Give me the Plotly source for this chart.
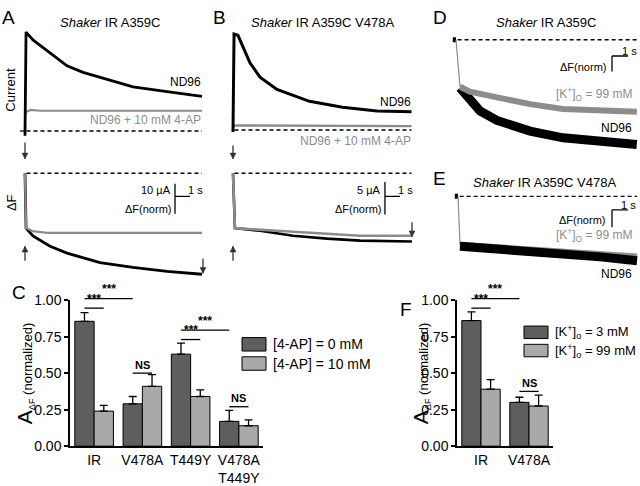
import plotly.graph_objects as go

W, H = 640, 486
FONT = "Liberation Sans, Arial, Helvetica, sans-serif"
BLACK = "#000000"
GRAY = "#8c8c8c"
DARK = "#5e5e5e"
LIGHT = "#a9a9a9"

# ---------------- data ----------------
# Panel A: Shaker IR A359C (time s, current uA, dF in scale-bar units)
a_cur_t_nd96 = [0, 0.02, 0.07, 0.53, 1.67, 2.8, 3.87, 5.0, 7.2, 9.47, 11.8]
a_cur_nd96 = [-1.6, 30.0, 33.2, 30.6, 26.1, 21.9, 19.7, 18.1, 14.8, 13.2, 11.6]
a_cur_t_4ap = [0.02, 0.07, 0.4, 1.0, 11.8]
a_cur_4ap = [5.5, 6.5, 7.1, 6.8, 6.8]
a_df_t_nd96 = [0, 0.07, 0.53, 1.67, 2.8, 5.0, 7.2, 9.47, 11.8]
a_df_nd96 = [0, -1.84, -2.10, -2.45, -2.68, -3.0, -3.16, -3.29, -3.39]
a_df_t_4ap = [0, 0.07, 0.5, 1.5, 11.8]
a_df_4ap = [0, -1.84, -1.94, -2.0, -2.0]
a_base_t = [0.1, 11.8]

# Panel B: Shaker IR A359C V478A
b_cur_t_nd96 = [0, 0.02, 0.07, 0.33, 0.67, 1.13, 1.8, 2.93, 5.1, 7.3, 9.6, 11.9]
b_cur_nd96 = [-0.3, 13.5, 14.7, 14.5, 12.8, 10.3, 8.1, 6.2, 4.4, 3.5, 2.9, 2.8]
b_cur_t_4ap = [0.02, 0.1, 11.9]
b_cur_4ap = [0.4, 0.7, 0.6]
b_df_t_nd96 = [0, 0.13, 1.8, 4.0, 6.27, 8.47, 11.93]
b_df_nd96 = [0, -1.68, -1.76, -1.91, -2.0, -2.06, -2.09]
b_df_t_4ap = [0, 0.13, 2.93, 6.27, 8.47, 11.93]
b_df_4ap = [0, -1.68, -1.76, -1.85, -1.91, -1.91]
b_base_t = [0.1, 11.9]

# Panel D: Shaker IR A359C, [K+]o
d_t_nd96 = [0, 0.25, 0.875, 1.5, 2.56, 4.63, 6.69, 8.81, 11.3]
d_df_nd96 = [0, -3.13, -4.0, -4.63, -5.25, -5.94, -6.38, -6.56, -6.81]
d_t_k99 = [0, 0.25, 0.875, 2.56, 4.63, 6.69, 8.81, 11.3]
d_df_k99 = [0, -3.06, -3.38, -3.75, -4.19, -4.5, -4.63, -4.69]
d_pre_t = [-0.2, 0.0]
d_base_t = [0.1, 11.3]

# Panel E: Shaker IR A359C V478A, [K+]o
e_t_nd96 = [0, 0.125, 2.63, 5.75, 8.88, 11.19]
e_df_nd96 = [0, -2.89, -3.06, -3.22, -3.5, -3.72]
e_t_k99 = [0, 0.125, 2.63, 5.75, 8.88, 11.19]
e_df_k99 = [0, -2.83, -2.97, -3.1, -3.33, -3.5]
e_pre_t = [-0.2, 0.0]
e_base_t = [0.1, 11.19]

zero2 = [0.0, 0.0]

# Panel C: A_dF (normalized), [4-AP]
c_categories = ["IR", "V478A", "T449Y", "V478A<br>T449Y"]
c_ap0 = [0.855, 0.29, 0.63, 0.17]
c_ap0_err = [0.06, 0.05, 0.075, 0.075]
c_ap10 = [0.24, 0.41, 0.34, 0.14]
c_ap10_err = [0.04, 0.08, 0.045, 0.04]
c_sig = [  # (group_i, bar_i, group_j, bar_j, level, label)
    (0, 0, 0, 1, 0.945, "***"),
    (0, 0, 1, 0, 1.01, "***"),
    (1, 0, 1, 1, 0.50, "NS"),
    (2, 0, 2, 1, 0.73, "***"),
    (2, 0, 3, 0, 0.795, "***"),
    (3, 0, 3, 1, 0.27, "NS"),
]
c_legend = ["[4-AP] = 0 mM", "[4-AP] = 10 mM"]

# Panel F: A_dF (normalized), [K+]o
f_categories = ["IR", "V478A"]
f_k3 = [0.86, 0.30]
f_k3_err = [0.06, 0.035]
f_k99 = [0.39, 0.275]
f_k99_err = [0.065, 0.075]
f_sig = [
    (0, 0, 0, 1, 0.945, "***"),
    (0, 0, 1, 0, 1.01, "***"),
    (1, 0, 1, 1, 0.375, "NS"),
]
f_legend = ["[K<sup>+</sup>]<sub>o</sub> = 3 mM", "[K<sup>+</sup>]<sub>o</sub> = 99 mM"]

y_ticks = [0, 0.25, 0.5, 0.75, 1.0]

# ---------------- helpers ----------------
def fx(px):
    return px / W


def fy(py):
    return 1 - py / H


def xname(n):
    return "xaxis" if n == 1 else f"xaxis{n}"


def yname(n):
    return "yaxis" if n == 1 else f"yaxis{n}"


def xr(n):
    return "x" if n == 1 else f"x{n}"


def yr(n):
    return "y" if n == 1 else f"y{n}"


fig = go.Figure()
layout = {}
shapes = []
annotations = []


def trace_axes(n, box, x0, xs, y0, ys):
    left, right, top, bottom = box
    layout[xname(n)] = dict(domain=[fx(left), fx(right)],
                            range=[(left - x0) / xs, (right - x0) / xs],
                            visible=False, anchor=yr(n), fixedrange=True)
    layout[yname(n)] = dict(domain=[fy(bottom), fy(top)],
                            range=[(y0 - bottom) / ys, (y0 - top) / ys],
                            visible=False, anchor=xr(n), fixedrange=True)


def line(n, x, y, color, width, dash=None):
    fig.add_trace(go.Scatter(x=x, y=y, mode="lines",
                             line=dict(color=color, width=width, dash=dash),
                             xaxis=xr(n), yaxis=yr(n), showlegend=False,
                             hoverinfo="skip"))


def seg(n, x0, y0, x1, y1, width=1.3, color=BLACK):
    shapes.append(dict(type="line", xref=xr(n), yref=yr(n), x0=x0, y0=y0,
                       x1=x1, y1=y1, line=dict(color=color, width=width)))


def text(px, py, s, size=12, color=BLACK, xanchor="center", yanchor="middle",
         angle=0):
    annotations.append(dict(x=fx(px), y=fy(py), xref="paper", yref="paper",
                            text=s, showarrow=False, xanchor=xanchor,
                            yanchor=yanchor, textangle=angle,
                            font=dict(family=FONT, size=size, color=color)))


def arrow(hx, hy, tx, ty):
    shapes.append(dict(type="line", xref="paper", yref="paper",
                       x0=fx(tx), y0=fy(ty), x1=fx(hx), y1=fy(hy),
                       line=dict(color="#333333", width=1.3)))
    dx, dy = hx - tx, hy - ty
    L = (dx * dx + dy * dy) ** 0.5
    ux, uy = dx / L, dy / L
    px_, py_ = -uy, ux
    hl, hw = 6, 3
    bx, by = hx - ux * hl, hy - uy * hl
    pts = [(hx, hy), (bx + px_ * hw, by + py_ * hw), (bx - px_ * hw, by - py_ * hw)]
    path = "M " + " L ".join(f"{fx(a):.5f},{fy(b):.5f}" for a, b in pts) + " Z"
    shapes.append(dict(type="path", xref="paper", yref="paper", path=path,
                       fillcolor="#333333", line=dict(color="#333333", width=0.5)))


DASH = "4px,3px"

# ---- Panel A ----
trace_axes(1, (18, 208, 18, 136), 25, 15, 128, 3.1)
trace_axes(2, (18, 208, 150, 285), 25, 15, 172, 31)
line(1, a_base_t, zero2, BLACK, 1.4, DASH)
line(1, a_cur_t_4ap, a_cur_4ap, GRAY, 2.2)
line(1, a_cur_t_nd96, a_cur_nd96, BLACK, 2.8)
line(2, a_base_t, zero2, BLACK, 1.4, DASH)
line(2, a_df_t_nd96, a_df_nd96, BLACK, 2.8)
line(2, a_df_t_4ap, a_df_4ap, GRAY, 2.2)
seg(2, 10.0, -0.355, 10.0, -1.355)
seg(2, 10.0, -0.774, 11.0, -0.774)
shapes.append(dict(type="line", xref="paper", yref="paper", x0=fx(20), x1=fx(25),
                   y0=fy(128), y1=fy(128), line=dict(color=BLACK, width=1.3)))

# ---- Panel B ----
trace_axes(3, (226, 418, 18, 136), 233, 15, 127, 6.8)
trace_axes(4, (226, 418, 150, 270), 233, 15, 172, 34)
line(3, b_base_t, zero2, BLACK, 1.4, DASH)
line(3, b_cur_t_4ap, b_cur_4ap, GRAY, 2.4)
line(3, b_cur_t_nd96, b_cur_nd96, BLACK, 3)
line(4, b_base_t, zero2, BLACK, 1.4, DASH)
line(4, b_df_t_nd96, b_df_nd96, BLACK, 2.6)
line(4, b_df_t_4ap, b_df_4ap, GRAY, 2.6)
seg(4, 10.13, -0.265, 10.13, -1.265)
seg(4, 10.13, -0.706, 11.13, -0.706)

# ---- Panel D ----
trace_axes(5, (448, 640, 20, 150), 456, 16, 33, 16)
line(5, d_base_t, zero2, BLACK, 1.4, DASH)
line(5, d_pre_t, zero2, BLACK, 5)
line(5, d_t_k99[:2], d_df_k99[:2], GRAY, 1.2)
line(5, d_t_nd96[1:], d_df_nd96[1:], BLACK, 9)
line(5, d_t_k99[1:], d_df_k99[1:], GRAY, 6)
seg(5, 9.75, -1.06, 10.75, -1.06)
seg(5, 9.75, -1.06, 9.75, -2.06)

# ---- Panel E ----
trace_axes(6, (448, 640, 185, 275), 458, 16, 196, 18)
line(6, e_base_t, zero2, BLACK, 1.4, DASH)
line(6, e_pre_t, zero2, BLACK, 5)
line(6, e_t_k99[:2], e_df_k99[:2], GRAY, 1.2)
line(6, e_t_k99[1:], e_df_k99[1:], GRAY, 7)
line(6, e_t_nd96[1:], e_df_nd96[1:], BLACK, 9)
seg(6, 9.625, -0.78, 10.625, -0.78)
seg(6, 9.625, -0.78, 9.625, -1.78)

# ---- Bar charts ----
BAR_TOP, BAR_BOT = 304, 456


def bar_axes(n, left, right, ncat):
    layout[xname(n)] = dict(domain=[fx(left), fx(right)], range=[-0.5, ncat - 0.5],
                            anchor=yr(n), showline=True, linecolor=BLACK,
                            linewidth=1.5, ticks="", showgrid=False,
                            zeroline=False, fixedrange=True, type="category",
                            tickfont=dict(family=FONT, size=14, color=BLACK))
    layout[yname(n)] = dict(domain=[fy(BAR_BOT), fy(BAR_TOP)], range=[0, 1.0],
                            anchor=xr(n), showline=True, linecolor=BLACK,
                            linewidth=1.5, ticks="outside", ticklen=4,
                            tickwidth=1.5, tickcolor=BLACK, tickvals=y_ticks,
                            tickformat=".2f", showgrid=False, zeroline=False,
                            fixedrange=True,
                            tickfont=dict(family=FONT, size=14, color=BLACK))


def bars(n, cats, vals, errs, color):
    fig.add_trace(go.Bar(x=cats, y=vals, xaxis=xr(n), yaxis=yr(n),
                         marker=dict(color=color, line=dict(color=BLACK, width=1)),
                         error_y=dict(type="data", symmetric=False, array=errs,
                                      arrayminus=[0] * len(errs), color=BLACK,
                                      thickness=1.3, width=4),
                         showlegend=False, hoverinfo="skip"))


def val_to_paper(v):
    return fy(BAR_BOT - v * (BAR_BOT - BAR_TOP))


def sig(n, items):
    for gi, bi, gj, bj, lev, lab in items:
        xa = gi - 0.2 + 0.4 * bi
        xb = gj - 0.2 + 0.4 * bj
        yp = val_to_paper(lev)
        shapes.append(dict(type="line", xref=xr(n), yref="paper", x0=xa, x1=xb,
                           y0=yp, y1=yp, line=dict(color=BLACK, width=1.3)))
        size = 12 if lab == "***" else 11
        annotations.append(dict(x=(xa + xb) / 2, y=yp + 0.5 / H, xref=xr(n),
                                yref="paper", text=f"<b>{lab}</b>", showarrow=False,
                                xanchor="center", yanchor="bottom",
                                font=dict(family=FONT, size=size, color=BLACK)))


def legend_box(left, top, h, labels, colors, tx, size=14):
    for k, (lab, col) in enumerate(zip(labels, colors)):
        y0 = top + k * (h + 6)
        shapes.append(dict(type="rect", xref="paper", yref="paper",
                           x0=fx(left), x1=fx(left + 24), y0=fy(y0), y1=fy(y0 + h),
                           fillcolor=col, line=dict(color=BLACK, width=1)))
        text(tx, y0 + h / 2, lab, size=size, xanchor="left")


bar_axes(7, 70, 263, len(c_categories))
bars(7, c_categories, c_ap0, c_ap0_err, DARK)
bars(7, c_categories, c_ap10, c_ap10_err, LIGHT)
sig(7, c_sig)
legend_box(242, 343, 14, c_legend, [DARK, LIGHT], 271)

bar_axes(8, 457, 553, len(f_categories))
bars(8, f_categories, f_k3, f_k3_err, DARK)
bars(8, f_categories, f_k99, f_k99_err, LIGHT)
sig(8, f_sig)
legend_box(524, 331, 13, f_legend, [DARK, LIGHT], 553, size=13)

ytitle = '<span style="font-size:21px">A</span><sub>ΔF</sub> (normalized)'
text(25, 380, ytitle, size=13, angle=-90)
text(421, 380, ytitle, size=13, angle=-90)

# ---- labels ----
text(8, 10, "A", size=19)
text(219, 10, "B", size=19)
text(19, 296, "C", size=19)
text(440, 10, "D", size=19)
text(439, 177, "E", size=19)
text(406, 314, "F", size=19)

text(110, 15, "<i>Shaker</i> IR A359C", size=13)
text(322, 15, "<i>Shaker</i> IR A359C V478A", size=13)
text(546, 15, "<i>Shaker</i> IR A359C", size=13)
text(544, 182, "<i>Shaker</i> IR A359C V478A", size=13)

text(11, 85, "Current", size=13, angle=-90)
text(11, 203, "ΔF", size=13, angle=-90)

text(203, 77, "ND96", size=12, xanchor="right")
text(203, 117, "ND96 + 10 mM 4-AP", size=12, color=GRAY, xanchor="right")
text(173, 189, "10 µA", size=11, xanchor="right")
text(186, 189, "1 s", size=11, xanchor="left")
text(173, 209, "ΔF(norm)", size=11, xanchor="right")

text(413, 98, "ND96", size=12, xanchor="right")
text(413, 138, "ND96 + 10 mM 4-AP", size=12, color=GRAY, xanchor="right")
text(383, 189, "5 µA", size=11, xanchor="right")
text(396, 189, "1 s", size=11, xanchor="left")
text(383, 209, "ΔF(norm)", size=11, xanchor="right")

text(634, 90, "[K<sup>+</sup>]<sub>O</sub> = 99 mM", size=12, color=GRAY, xanchor="right")
text(634, 125, "ND96", size=12, xanchor="right")
text(620, 45, "1 s", size=11, xanchor="left")
text(608, 61, "ΔF(norm)", size=11, xanchor="right")

text(634, 236, "[K<sup>+</sup>]<sub>O</sub> = 99 mM", size=12, color=GRAY, xanchor="right")
text(634, 277, "ND96", size=12, xanchor="right")
text(619, 205, "1 s", size=11, xanchor="left")
text(607, 221, "ΔF(norm)", size=11, xanchor="right")

# ---- arrows ----
arrow(25, 157, 25, 140)
arrow(25, 248, 25, 263)
arrow(203, 276, 203, 261)
arrow(233, 157, 233, 143)
arrow(233, 248, 233, 263)
arrow(412, 238, 412, 223)

layout.update(dict(width=W, height=H, autosize=False,
                   margin=dict(l=0, r=0, t=0, b=0),
                   paper_bgcolor="white", plot_bgcolor="rgba(0,0,0,0)",
                   barmode="group", bargap=0.2, bargroupgap=0,
                   showlegend=False, shapes=shapes, annotations=annotations,
                   font=dict(family=FONT, color=BLACK)))
fig.update_layout(**layout)
fig.write_html("out.html", config={"displayModeBar": False},
               post_script="document.body.style.margin='0';"
                           "document.body.style.overflow='hidden';")
